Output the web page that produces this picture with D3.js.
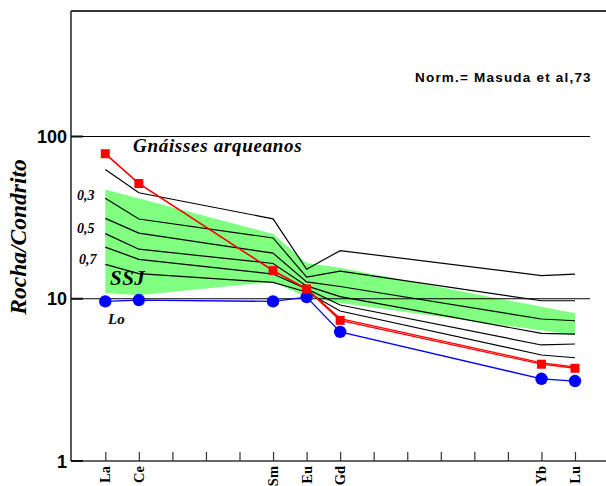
<!DOCTYPE html>
<html>
<head>
<meta charset="utf-8">
<script src="https://cdn.jsdelivr.net/npm/d3@7"></script>
<style>
  html, body { margin: 0; padding: 0; background: #fff; }
  svg { display: block; }
</style>
</head>
<body>
<svg id="chart" width="606" height="486"></svg>
<script>
// ---- data ----
const elements = ["La","Ce","Pr","Nd","Pm","Sm","Eu","Gd","Tb","Dy","Ho","Er","Tm","Yb","Lu"];
const labeledElements = ["La","Ce","Sm","Eu","Gd","Yb","Lu"];
const seriesElements = ["La","Ce","Sm","Eu","Gd","Yb","Lu"];
const yTickValues = [1, 10, 100];
const yTickLabels = ["1", "10", "100"];

// red squares sample (drawn twice, nearly coincident after Eu)
const redSample  = [78.3, 51.3, 14.9, 11.5, 7.36, 3.95, 3.73];
const redSample2 = [78.3, 51.3, 14.9, 11.5, 7.55, 4.03, 3.80];
// blue circles sample "Lo"
const blueLo = [9.63, 9.82, 9.63, 10.24, 6.25, 3.21, 3.11];
// black model curves (Gnáisses arqueanos)
const modelA = [62.6, 45.0, 31.1, 15.2, 19.8, 13.9, 14.2];
const modelB = [41.6, 31.0, 23.7, 13.6, 14.8, 9.72, 9.72];
const modelC = [31.3, 25.4, 19.1, 12.7, 11.9, 7.50, 7.32];
const modelD = [25.2, 20.2, 16.5, 12.0, 10.3, 6.12, 6.06];
const modelE = [20.8, 17.5, 14.2, 11.5, 9.15, 5.19, 5.26];
const modelF = [16.3, 14.3, 12.6, 11.0, 8.40, 4.50, 4.33];
const modelCurves = [modelA, modelB, modelC, modelD, modelE, modelF];

// SSJ field (green band)
const bandUpperElements = ["La","Sm","Eu","Gd","Lu"];
const bandUpper = [47.1, 25.1, 16.6, 15.5, 8.13];
const bandLowerElements = ["La","Ce","Sm","Eu","Gd","Lu"];
const bandLower = [10.85, 10.5, 12.7, 10.25, 9.41, 5.98];

// ---- drawing ----
const svg = d3.select("#chart");
const x = d3.scalePoint().domain(elements).range([105.3, 575]).padding(0);
const y = d3.scaleLog().domain([1, 100]).range([461, 136.5]);
const axisX0 = 71, frameTop = 11, axisRight = 606, gridRight = 590;

const serif = "'Liberation Serif', 'Times New Roman', serif";
const sans = "'Liberation Sans', Arial, sans-serif";

// green band
const bandPts = bandUpperElements.map((e, i) => [x(e), y(bandUpper[i])])
  .concat(bandLowerElements.map((e, i) => [x(e), y(bandLower[i])]).reverse());
svg.append("path")
  .attr("d", d3.line()(bandPts) + "Z")
  .attr("fill", "#80ff80").attr("stroke", "none");

// gridlines at 10 and 100
svg.selectAll("line.grid").data(yTickValues.filter(v => v > 1)).enter()
  .append("line").attr("class", "grid")
  .attr("x1", axisX0).attr("x2", gridRight)
  .attr("y1", d => y(d)).attr("y2", d => y(d))
  .attr("stroke", "#000").attr("stroke-width", 1.2);

// frame: left axis, top line
svg.append("line").attr("x1", axisX0).attr("x2", axisX0).attr("y1", frameTop).attr("y2", y(1))
  .attr("stroke", "#222").attr("stroke-width", 1.5);
svg.append("line").attr("x1", axisX0).attr("x2", axisRight).attr("y1", frameTop).attr("y2", frameTop)
  .attr("stroke", "#333").attr("stroke-width", 2);

// x axis
const xAxis = d3.axisBottom(x).tickSizeInner(-9).tickSizeOuter(0).tickFormat("");
const gx = svg.append("g").attr("transform", `translate(0,${y(1)})`).call(xAxis);
gx.select(".domain").remove();
gx.selectAll(".tick line").attr("stroke", "#333").attr("stroke-width", 1.2);
svg.append("line").attr("x1", axisX0).attr("x2", axisRight).attr("y1", y(1)).attr("y2", y(1))
  .attr("stroke", "#333").attr("stroke-width", 1.6);

// x labels (rotated)
svg.selectAll("text.xl").data(labeledElements).enter()
  .append("text").attr("class", "xl")
  .attr("transform", d => `translate(${x(d) + 5},466) rotate(-90)`)
  .attr("text-anchor", "end")
  .attr("font-family", serif).attr("font-weight", "bold").attr("font-size", 14.5)
  .text(d => d);

// y ticks and labels
svg.selectAll("line.yt").data(yTickValues).enter()
  .append("line").attr("class", "yt")
  .attr("x1", axisX0).attr("x2", axisX0 + 12)
  .attr("y1", d => y(d)).attr("y2", d => y(d))
  .attr("stroke", "#111").attr("stroke-width", 2);
svg.selectAll("text.yl").data(yTickValues).enter()
  .append("text").attr("class", "yl")
  .attr("x", 67).attr("y", d => y(d) + 6.5)
  .attr("text-anchor", "end")
  .attr("font-family", sans).attr("font-weight", "bold").attr("font-size", 18)
  .text((d, i) => yTickLabels[i]);

// y title
svg.append("text")
  .attr("transform", "translate(26,237) rotate(-90)")
  .attr("text-anchor", "middle")
  .attr("font-family", serif).attr("font-weight", "bold").attr("font-style", "italic")
  .attr("font-size", 23.5)
  .text("Rocha/Condrito");

const line = d3.line().x((d, i) => x(seriesElements[i])).y(d => y(d));

// model curves
svg.selectAll("path.model").data(modelCurves).enter()
  .append("path").attr("class", "model")
  .attr("d", d => line(d))
  .attr("fill", "none").attr("stroke", "#000").attr("stroke-width", 1.2);

// blue series
svg.append("path").attr("d", line(blueLo))
  .attr("fill", "none").attr("stroke", "#0000ff").attr("stroke-width", 1.3);
svg.selectAll("circle.blue").data(blueLo).enter()
  .append("circle").attr("class", "blue")
  .attr("cx", (d, i) => x(seriesElements[i])).attr("cy", d => y(d))
  .attr("r", 6.2).attr("fill", "#0000ff");

// red series
[redSample2, redSample].forEach(s => {
  svg.append("path").attr("d", line(s))
    .attr("fill", "none").attr("stroke", "#ff0000").attr("stroke-width", 1.3);
});
svg.selectAll("rect.red").data(redSample).enter()
  .append("rect").attr("class", "red")
  .attr("x", (d, i) => x(seriesElements[i]) - 4.5).attr("y", d => y(d) - 4.5)
  .attr("width", 9).attr("height", 9).attr("fill", "#ff0000");

// annotations
function note(txt, xx, yy, size, ls) {
  svg.append("text").attr("x", xx).attr("y", yy)
    .attr("font-family", serif).attr("font-weight", "bold").attr("font-style", "italic")
    .attr("font-size", size).attr("letter-spacing", ls || 0).text(txt);
}
note("Gnáisses arqueanos", 133, 152, 19, 0.7);
note("0,3", 77, 199.5, 14);
note("0,5", 77, 232.5, 14);
note("0,7", 79, 264, 14);
note("SSJ", 110, 285, 21, 0.5);
note("Lo", 108, 324, 15);

svg.append("text").attr("x", 415).attr("y", 81.5)
  .attr("font-family", sans).attr("font-weight", "bold").attr("font-size", 13.5)
  .attr("letter-spacing", 1.2)
  .text("Norm.= Masuda et al,73");
</script>
</body>
</html>
